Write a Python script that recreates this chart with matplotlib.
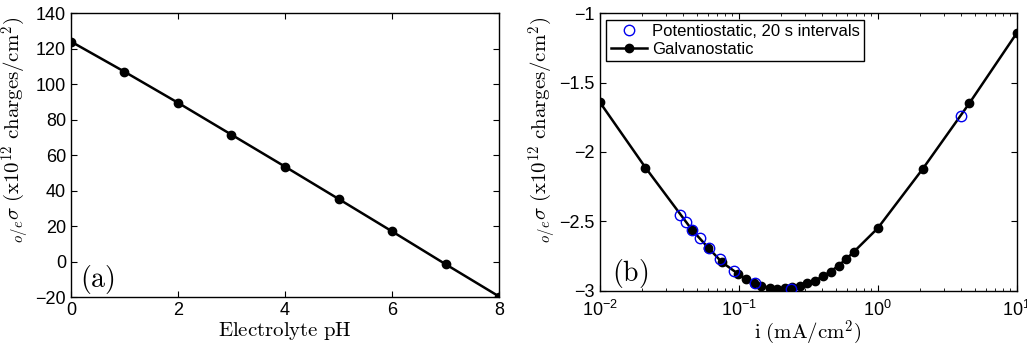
import matplotlib
matplotlib.use("Agg")
import matplotlib.pyplot as plt

plt.rcParams["font.family"] = ["Liberation Sans", "DejaVu Sans"]
# tick labels (log ticks too) in a sans face, axis labels in CM via math_fontfamily
plt.rcParams["mathtext.fontset"] = "custom"
plt.rcParams["mathtext.rm"] = "Liberation Sans"
plt.rcParams["mathtext.it"] = "Liberation Sans:italic"
plt.rcParams["mathtext.bf"] = "Liberation Sans:bold"

# panel (a): surface charge vs electrolyte pH
ph = [0, 1, 2, 3, 4, 5, 6, 7, 8]
sigma_ph = [124.0, 107.0, 89.5, 71.5, 53.5, 35.3, 17.0, -1.5, -19.7]

# panel (b): surface charge vs current density
gal_i = [0.01, 0.0213, 0.0461, 0.0601, 0.0757, 0.0987, 0.113, 0.129, 0.145,
         0.167, 0.188, 0.214, 0.243, 0.274, 0.310, 0.355, 0.403, 0.458,
         0.523, 0.593, 0.670, 1.0, 2.11, 4.57, 10.0]
gal_s = [-1.641, -2.112, -2.561, -2.688, -2.794, -2.877, -2.916, -2.940, -2.964,
         -2.978, -2.986, -2.983, -2.974, -2.962, -2.947, -2.926, -2.894, -2.861,
         -2.818, -2.770, -2.721, -2.549, -2.121, -1.648, -1.144]
pot_i = [0.0376, 0.0415, 0.0458, 0.0524, 0.0608, 0.0734, 0.0925, 0.130, 0.236, 3.97]
pot_s = [-2.453, -2.501, -2.561, -2.623, -2.693, -2.772, -2.856, -2.940, -2.986, -1.740]

ylab = r"${}_{o/e}\sigma\ (\mathrm{x}10^{12}\ \mathrm{charges/cm}^2)$"
LAB = dict(fontsize=15, math_fontfamily="cm")

fig = plt.figure(figsize=(10.27, 3.45), dpi=100)
ax1 = fig.add_axes([0.069, 0.139, 0.417, 0.823])
ax2 = fig.add_axes([0.584, 0.157, 0.406, 0.805])

for ax in (ax1, ax2):
    ax.tick_params(direction="in", top=True, right=True, labelsize=13, length=4)
    ax.tick_params(which="minor", direction="in", top=True, right=True, length=2)
    for s in ax.spines.values():
        s.set_linewidth(1.0)

ax1.plot(ph, sigma_ph, "k-", marker="o", ms=6, lw=1.8)
ax1.set_xlim(0, 8)
ax1.set_ylim(-20, 140)
ax1.set_xticks([0, 2, 4, 6, 8])
ax1.set_yticks(range(-20, 141, 20))
ax1.set_xlabel(r"$\mathrm{Electrolyte\ pH}$", labelpad=1, **LAB)
ax1.set_ylabel(ylab, **LAB)
ax1.yaxis.set_label_coords(-0.091, 0.59)
ax1.text(0.022, 0.035, r"$\mathrm{(a)}$", transform=ax1.transAxes,
         fontsize=20, math_fontfamily="cm")

ax2.plot(pot_i, pot_s, "o", mfc="none", mec="#0000ee", ms=7.5, mew=1.0,
         label="Potentiostatic, 20 s intervals", zorder=3)
ax2.plot(gal_i, gal_s, "k-", marker="o", ms=6, lw=1.8, label="Galvanostatic", zorder=2)
ax2.set_xscale("log")
ax2.set_xlim(0.01, 10)
ax2.set_ylim(-3, -1)
ax2.set_yticks([-3, -2.5, -2, -1.5, -1])
ax2.set_yticklabels(["\u22123", "\u22122.5", "\u22122", "\u22121.5", "\u22121"])
ax2.tick_params(axis="x", pad=6.5)
ax2.set_xlabel(r"$\mathrm{i\ (mA/cm}^2)$", labelpad=-1, **LAB)
ax2.set_ylabel(ylab, **LAB)
ax2.yaxis.set_label_coords(-0.097, 0.58)
ax2.text(0.03, 0.035, r"$\mathrm{(b)}$", transform=ax2.transAxes,
         fontsize=20, math_fontfamily="cm")
leg = ax2.legend(loc="upper left", fontsize=12, fancybox=False, framealpha=1,
                 edgecolor="k", borderpad=0.25, handlelength=2.2, handletextpad=0.3,
                 borderaxespad=0.4, labelspacing=0.2)
leg.get_frame().set_linewidth(1.0)

fig.savefig("out.png", dpi=100)
